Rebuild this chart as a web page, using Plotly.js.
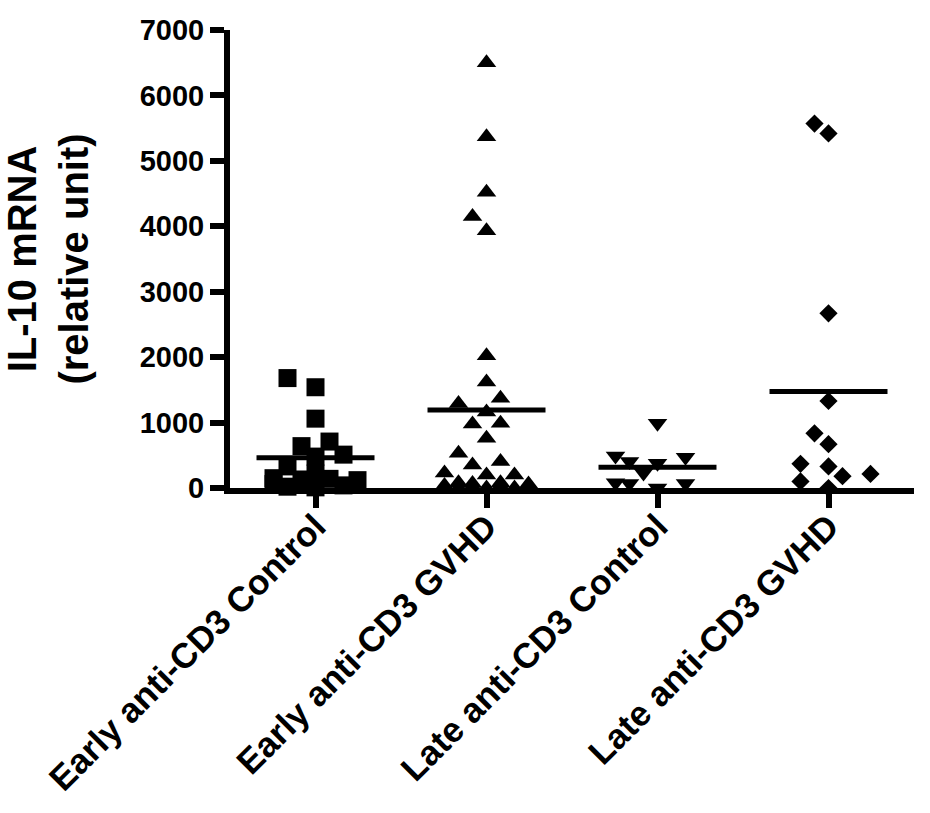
<!DOCTYPE html>
<html><head><meta charset="utf-8">
<script src="https://cdn.plot.ly/plotly-3.0.1.min.js"></script>
<style>html,body{margin:0;padding:0;background:#fff}#chart{width:930px;height:813px}</style>
</head><body><div id="chart"></div>
<script>
// ---- data ----
const categories = ["Early anti-CD3 Control", "Early anti-CD3 GVHD", "Late anti-CD3 Control", "Late anti-CD3 GVHD"];
const earlyControl = [1680, 1540, 1060, 710, 640, 510, 480, 330, 220, 150, 140, 130, 120, 60, 40, 20, 10];
const earlyGVHD = [6500, 5370, 4520, 4150, 3930, 2020, 1620, 1370, 1290, 1160, 980, 990, 760, 530, 405, 350, 230, 200, 200, 80, 80, 70, 60, 40, 30, 20, 10, 5, 0, 0, 0];
const lateControl = [990, 490, 470, 405, 380, 230, 80, 70, 70, 0];
const lateGVHD = [5570, 5420, 2670, 1330, 835, 670, 370, 330, 215, 180, 100, 0];
const yTickVals = [0, 1000, 2000, 3000, 4000, 5000, 6000, 7000];

const groups = [earlyControl, earlyGVHD, lateControl, lateGVHD];
const symbols = ["square", "triangle-up", "triangle-down", "diamond"];
const sizes = [18, 17, 17, 14];

const W = 930, H = 813, M = {l: 230, r: 16, t: 30, b: 325};
const pxX = (W - M.l - M.r) / 4;      // px per category unit
const pxY = (H - M.t - M.b) / 7000;   // px per value unit

// simple column-scatter (beeswarm) layout computed from values
function swarm(vals, diam) {
  const step = 14, maxSlot = 3;
  const order = vals.map((v, i) => i).sort((a, b) => vals[a] - vals[b]);
  const slots = [0];
  for (let k = 1; k <= maxSlot; k++) slots.push(-k, k);
  const placed = [], off = new Array(vals.length);
  for (const i of order) {
    const y = vals[i] * pxY;
    let best = 0, bestScore = Infinity;
    for (const s of slots) {
      let score = 0;
      for (const p of placed) {
        const dx = (s - p.s) * step / diam, dy = (y - p.y) / diam;
        const d = dx * dx + dy * dy;
        if (d < 1) score += 1 - d;
      }
      if (score === 0) { best = s; bestScore = 0; break; }
      if (score < bestScore - 1e-9) { bestScore = score; best = s; }
    }
    placed.push({s: best, y});
    off[i] = best * step / pxX;
  }
  return off;
}

const traces = [];
groups.forEach((vals, gi) => {
  const off = swarm(vals, 17);
  traces.push({
    type: "scatter", mode: "markers",
    x: vals.map((v, i) => gi + off[i]), y: vals,
    marker: {symbol: symbols[gi], size: sizes[gi], color: "#000"},
    cliponaxis: false, hoverinfo: "y"
  });
  const mean = vals.reduce((a, b) => a + b, 0) / vals.length;
  traces.push({
    type: "scatter", mode: "lines",
    x: [gi - 0.345, gi + 0.345], y: [mean, mean],
    line: {color: "#000", width: 5}, cliponaxis: false, hoverinfo: "skip"
  });
});

const fam = "Liberation Sans, Arial, Helvetica, sans-serif";
const layout = {
  width: W, height: H,
  margin: M,
  showlegend: false,
  paper_bgcolor: "#fff", plot_bgcolor: "#fff",
  font: {family: fam, color: "#000"},
  xaxis: {
    range: [-0.5, 3.5], tickmode: "array", tickvals: [0, 1, 2, 3], ticktext: categories,
    tickangle: -45, ticks: "outside", ticklen: 14, tickwidth: 6, tickcolor: "#000",
    ticklabelstandoff: -16,
    showline: true, linewidth: 6, linecolor: "#000", showgrid: false, zeroline: false,
    tickfont: {family: fam, size: 35, weight: "bold", color: "#000"}
  },
  yaxis: {
    range: [0, 7000], tickmode: "array", tickvals: yTickVals,
    ticks: "outside", ticklen: 14, tickwidth: 6, tickcolor: "#000",
    showline: true, linewidth: 6, linecolor: "#000", showgrid: false, zeroline: false,
    tickfont: {family: fam, size: 29, weight: "bold", color: "#000"},
    title: {text: "IL-10 mRNA<br>(relative unit)", font: {family: fam, size: 40, weight: "bold", color: "#000"}, standoff: 42}
  }
};
Plotly.newPlot("chart", traces, layout, {staticPlot: true});
</script></body></html>
